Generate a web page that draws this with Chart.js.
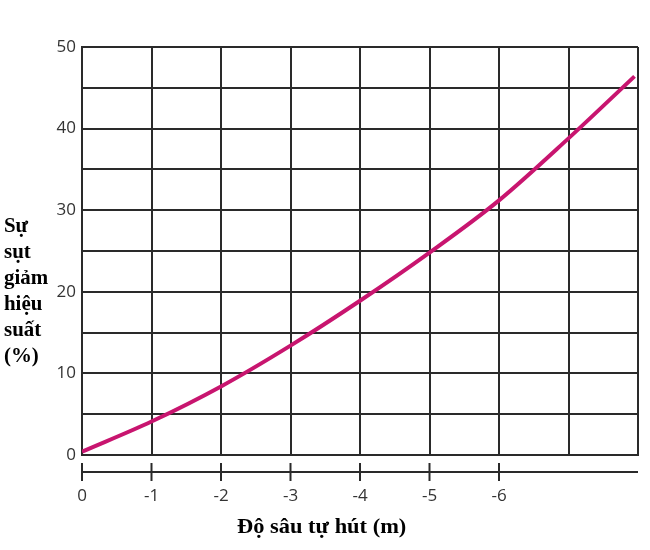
<!DOCTYPE html>
<html>
<head>
<meta charset="utf-8">
<script src="https://cdn.jsdelivr.net/npm/chart.js@4/dist/chart.umd.min.js"></script>
<style>
  html, body { margin: 0; padding: 0; background: #fff; }
  #wrap { position: relative; width: 650px; height: 550px; }
  #c { position: absolute; left: 0; top: 0; }
  .ttl { position: absolute; font-family: "Liberation Serif", "DejaVu Serif", serif; font-weight: bold; font-size: 22px; color: #000; }
  #ytitle { left: 4px; top: 212px; line-height: 26px; transform: scaleX(0.95); transform-origin: left top; }
  #xtitle { left: 237px; top: 513px; line-height: 26px; white-space: nowrap; transform: scaleX(1.02); transform-origin: left top; }
</style>
</head>
<body>
<div id="wrap">
  <canvas id="c" width="650" height="550"></canvas>
  <div id="ytitle" class="ttl">Sự<br>sụt<br>giảm<br>hiệu<br>suất<br>(%)</div>
  <div id="xtitle" class="ttl">Độ sâu tự hút (m)</div>
</div>
<script>
// Data
const depth = [0, -1, -2, -3, -4, -5, -6, -7, -7.95];
const loss  = [0.4, 4.1, 8.4, 13.4, 18.9, 24.8, 31.2, 38.8, 46.4];
const xTickValues = [0, -1, -2, -3, -4, -5, -6];
const xTickLabels = ['0', '-1', '-2', '-3', '-4', '-5', '-6'];
const yTickValues = [0, 10, 20, 30, 40, 50];

const points = depth.map((d, i) => ({ x: d, y: loss[i] }));

const lowerAxis = {
  id: 'lowerAxis',
  afterDraw(chart) {
    const ctx = chart.ctx;
    const xs = chart.scales.x;
    const area = chart.chartArea;
    const yLine = area.bottom + 17;
    ctx.save();
    ctx.strokeStyle = '#2a2a2a';
    ctx.lineWidth = 2;
    ctx.beginPath();
    ctx.moveTo(area.left, yLine);
    ctx.lineTo(area.right, yLine);
    ctx.stroke();
    ctx.fillStyle = '#333';
    ctx.font = '17px "Open Sans", sans-serif';
    ctx.textAlign = 'center';
    ctx.textBaseline = 'middle';
    xTickValues.forEach((v, i) => {
      const px = xs.getPixelForValue(v);
      ctx.beginPath();
      ctx.moveTo(px, yLine - 9);
      ctx.lineTo(px, yLine + 9);
      ctx.stroke();
      ctx.fillText(xTickLabels[i], px, yLine + 24);
    });
    ctx.restore();
  }
};

new Chart(document.getElementById('c'), {
  type: 'line',
  data: {
    datasets: [{
      data: points,
      borderColor: '#c8156f',
      borderWidth: 4,
      pointRadius: 0,
      cubicInterpolationMode: 'monotone',
      fill: false
    }]
  },
  options: {
    responsive: false,
    animation: false,
    events: [],
    layout: { padding: { left: 0, top: 47, right: 12, bottom: 95 } },
    plugins: { legend: { display: false }, tooltip: { enabled: false } },
    scales: {
      x: {
        type: 'linear',
        min: -8,
        max: 0,
        reverse: true,
        afterFit(s) { s.height = 0; },
        ticks: { display: false, stepSize: 1 },
        grid: { color: '#2a2a2a', lineWidth: 2, drawTicks: false },
        border: { color: '#2a2a2a', width: 2 }
      },
      y: {
        min: 0,
        max: 50,
        afterFit(s) { s.width = 82; },
        ticks: {
          stepSize: 5,
          padding: 6,
          color: '#333',
          font: { family: '"Open Sans", sans-serif', size: 17 },
          callback: (v) => yTickValues.includes(v) ? String(v) : ''
        },
        grid: { color: '#2a2a2a', lineWidth: 2, drawTicks: false },
        border: { color: '#2a2a2a', width: 2 }
      }
    }
  },
  plugins: [lowerAxis]
});
</script>
</body>
</html>
